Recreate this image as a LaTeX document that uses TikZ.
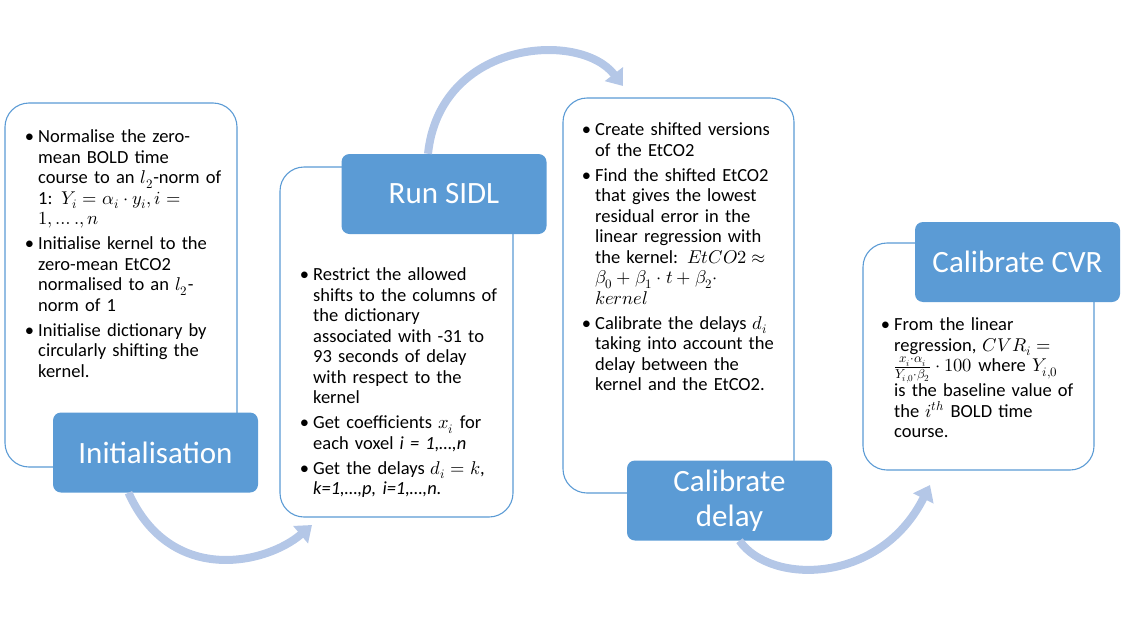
\documentclass[tikz,border=0pt]{standalone}
\usepackage{fontspec}
\usepackage{unicode-math}
\setmainfont{Carlito}
\setmathfont{Latin Modern Math}
\usepackage{enumitem}
\usetikzlibrary{arrows.meta}
\definecolor{headblue}{HTML}{5B9BD5}
\definecolor{flowblue}{HTML}{B4C7E7}
\setlist[itemize]{leftmargin=10pt,labelsep=4pt,itemsep=4.5pt,topsep=0pt,parsep=0pt,partopsep=0pt}
\tikzset{
  panel/.style={draw=headblue, line width=1.1pt, fill=white, rounded corners=24pt},
  head/.style={fill=headblue, rounded corners=8pt, text=white, align=center,
    font=\fontsize{31}{35}\selectfont, minimum width=205pt, minimum height=80pt},
  body/.style={anchor=north west, inner sep=0pt, text width=215pt, align=left,
    font=\fontsize{18.5}{20.5}\selectfont},
  flow/.style={draw=flowblue, line width=8pt, -{Triangle[width=22pt,length=15pt]}}
}
\begin{document}
\begin{tikzpicture}[x=1pt,y=-1pt]
\useasboundingbox (0,0) rectangle (1125,624);
% panels
\node[panel, minimum width=232pt, minimum height=364pt] (p1) at (121,285) {};
\node[panel, minimum width=233pt, minimum height=350pt] (p2) at (396.5,342) {};
\node[panel, minimum width=231pt, minimum height=395pt] (p3) at (678.5,295.5) {};
\node[panel, minimum width=231pt, minimum height=227pt] (p4) at (978.5,356.5) {};
% panel texts
\node[body] (t1) at (28,122) {\begin{itemize}
\item Normalise the zero-\newline mean BOLD time\newline course to an $l_2$-norm of\newline 1: $Y_i = \alpha_i \cdot y_i, i =$\newline $1, \ldots. , n$
\item Initialise kernel to the\newline zero-mean EtCO2\newline normalised to an $l_2$-\newline norm of 1
\item Initialise dictionary by\newline circularly shifting the\newline kernel.
\end{itemize}};
\node[body] (t2) at (303,260) {\begin{itemize}
\item Restrict the allowed\newline shifts to the columns of\newline the dictionary\newline associated with -31 to\newline 93 seconds of delay\newline with respect to the\newline kernel
\item Get coefficients $x_i$ for\newline each voxel \textit{i = 1,…,n}
\item Get the delays $d_i = k$,\newline \textit{k=1,…,p, i=1,…,n.}
\end{itemize}};
\node[body] (t3) at (585,115) {\begin{itemize}
\item Create shifted versions\newline of the EtCO2
\item Find the shifted EtCO2\newline that gives the lowest\newline residual error in the\newline linear regression with\newline the kernel: $EtCO2 \approx$\newline $\beta_0 + \beta_1 \cdot t + \beta_2 \cdot$\newline $kernel$
\item Calibrate the delays $d_i$\newline taking into account the\newline delay between the\newline kernel and the EtCO2.
\end{itemize}};
\node[body] (t4) at (884,310) {\begin{itemize}
\item From the linear\newline regression, $CVR_i =$\newline $\frac{x_i \cdot \alpha_i}{Y_{i,0} \cdot \beta_2} \cdot 100$ where $Y_{i,0}$\newline is the baseline value of\newline the $i^{th}$ BOLD time\newline course.
\end{itemize}};
% headings
\node[head] (h1) at (155.5,452.5) {Initialisation};
\node[head] (h2) at (444,194) {Run SIDL};
\node[head] (h3) at (729.5,500.5) {Calibrate\\delay};
\node[head] (h4) at (1017.5,262) {Calibrate CVR};
% arrows
\coordinate (e1) at (312,525);
\coordinate (e2) at (623,86);
\coordinate (e3) at (930,485);
\draw[flow] ([xshift=-27pt]h1.south) .. controls (170,585) and (265,565) .. (e1);
\draw[flow] ([xshift=-16pt]h2.north) .. controls (440,40) and (580,30) .. (e2);
\draw[flow] ([xshift=10pt]h3.south) .. controls (770,585) and (880,585) .. (e3);
\end{tikzpicture}
\end{document}
